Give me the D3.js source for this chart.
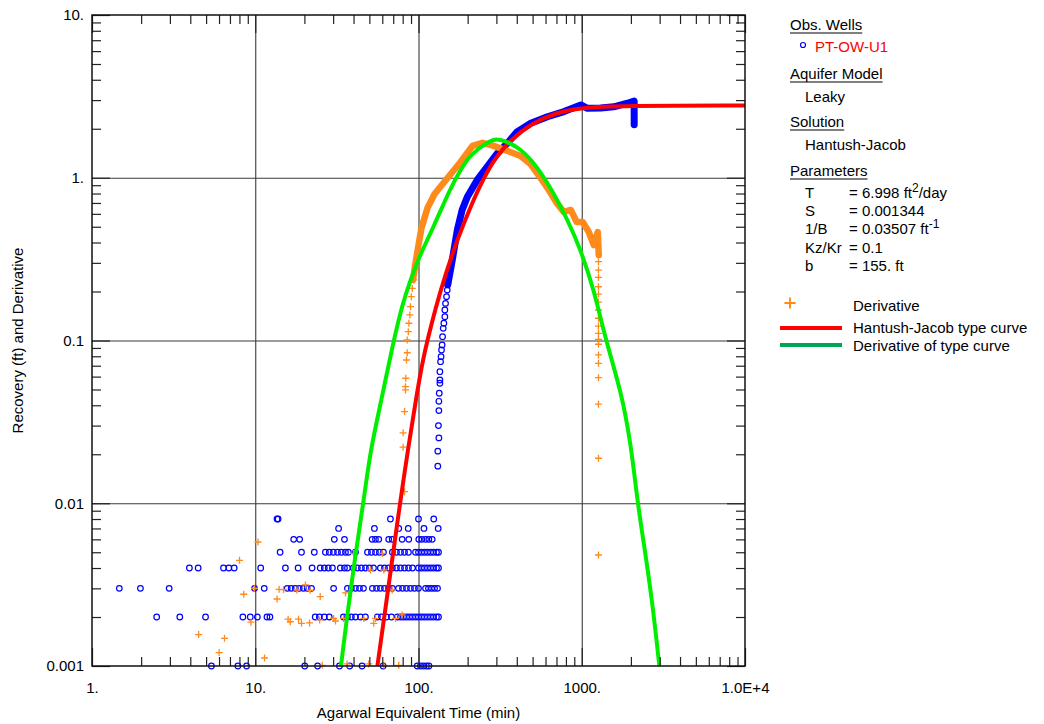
<!DOCTYPE html>
<html>
<head>
<meta charset="utf-8">
<script src="https://cdn.jsdelivr.net/npm/d3@7"></script>
<style>
  body { margin: 0; background: #fff; }
  svg text { font-family: "Liberation Sans", Arial, sans-serif; font-size: 15px; fill: #000; }
</style>
</head>
<body>
<script>
// values: time in min, recovery and derivative in ft
var xTicks = [1, 10, 100, 1000, 10000];
var xTickLabels = ['1.', '10.', '100.', '1000.', '1.0E+4'];
var yTicks = [0.001, 0.01, 0.1, 1, 10];
var yTickLabels = ['0.001', '0.01', '0.1', '1.', '10.'];

// early observations sit on 0.001 ft steps
var obsLevels = [0.001, 0.002, 0.003, 0.004, 0.005, 0.006, 0.007, 0.008];
var obsLevelTimes = [
  [5.39, 7.83, 8.85, 20.1, 24.1, 32.8, 37.9, 45.1, 60.7, 98.2, 102.8, 107.3, 111.9, 115.9],
  [2.49, 3.45, 4.96, 8.40, 9.32, 10.3, 11.8, 12.3, 23.3, 24.7, 26.5, 28.4, 34.7, 36.7, 38.8, 41.1, 44.1, 47.3,
   56.0, 59.3, 63.6, 68.3, 74.3, 77.6, 80.9, 84.4, 88.1, 91.9, 95.9, 100, 104.3, 108.8, 113.5, 118.5, 123.6, 128.9, 132.6],
  [1.47, 1.98, 2.97, 9.90, 11.35, 15.7, 16.6, 17.6, 18.6, 19.7, 20.8, 22.1, 30.2, 36.7, 38.8, 41.1, 43.5, 46.0,
   52.2, 55.3, 58.4, 61.9, 65.5, 69.2, 75.4, 79.8, 84.4, 89.3, 94.5, 100, 110.4, 115.1, 120.2, 125.4, 130.8],
  [3.95, 4.47, 6.39, 6.89, 7.43, 10.8, 15.3, 18.3, 22.3, 25.0, 26.5, 28.0, 29.7, 33.2, 35.2, 36.7, 39.9, 42.2, 44.7,
   47.3, 50.0, 53.0, 58.4, 61.9, 65.5, 69.2, 73.3, 77.6, 82.1, 86.8, 91.9, 100, 104.3, 108.8, 113.5, 118.5, 123.6, 128.9, 132.6],
  [14.2, 19.2, 23.0, 26.9, 28.4, 30.1, 31.9, 33.7, 35.7, 37.2, 41.1, 48.7, 51.5, 54.5, 57.6, 61.0, 69.2, 73.3,
   77.6, 82.1, 86.8, 95.9, 100, 104.3, 108.8, 113.5, 118.5, 123.6, 128.9, 132.6],
  [17.2, 18.7, 30.5, 35.2, 52.0, 54.5, 57.1, 65.7, 69.0, 79.4, 87.2, 100.4, 104.8, 110.4, 115.7, 121.3],
  [32.4, 53.7, 75.7, 86.5, 108, 132],
  [13.6, 13.8, 67.3, 100, 124]
];

var obsRiseTime = [131.3, 131.3, 133.3, 132.5, 133.3, 133.3, 134.0, 135.2, 135.2, 135.2, 136.5, 137.5,
  138.4, 139.5, 140.4, 141.7, 143.0, 145.0, 145.0, 146.4, 148.5, 150.0, 151.3];
var obsRiseRecovery = [0.0169, 0.0209, 0.0252, 0.0300, 0.0371, 0.0423, 0.0474, 0.0546, 0.0572, 0.0643, 0.0741, 0.0795,
  0.0874, 0.0938, 0.1055, 0.1188, 0.1276, 0.140, 0.154, 0.169, 0.186, 0.204, 0.224];

// late observations are so dense they read as one thick band
var obsBandTime = [151, 161, 173, 185, 199, 229, 264, 304, 350, 403, 487, 616, 779, 986, 1084, 1308, 1571, 1906, 2094, 2095];
var obsBandRecovery = [0.22, 0.312, 0.478, 0.634, 0.762, 0.969, 1.17, 1.41, 1.63, 1.92, 2.16, 2.37, 2.55, 2.80, 2.67, 2.68, 2.73, 2.87, 2.96, 2.12];

var derivTime = [4.50, 6.01, 6.48, 8.01, 8.50, 9.41, 9.89, 10.4, 11.4, 13.6, 14.0, 14.9, 15.9, 16.4, 18.0, 18.4, 19.2, 20.3,
  21.5, 21.7, 24.8, 25.0, 25.7, 30.2, 31.0, 34.8, 35.7, 36.5, 40.1, 46.2, 49.6, 50.8, 53.2, 54.5, 59.9, 61.3, 61.3,
  69.0, 72.3, 75.7, 79.4,
  82.1, 80.5, 80.5, 82.1, 83.2, 83.2, 83.6, 84.4, 85.3, 85.3, 86.6, 87.3, 88.6, 89.3, 90.3, 91.6, 93.6, 95.9,
  1266, 1266, 1266, 1266, 1266, 1266, 1266, 1266, 1266, 1266, 1266, 1266, 1266, 1266, 1266, 1266, 1266, 1266];
var derivValue = [0.00156, 0.00121, 0.00148, 0.00446, 0.00276, 0.00186, 0.00300, 0.00578, 0.00112, 0.00258, 0.00296,
  0.00295, 0.00194, 0.00187, 0.00293, 0.00194, 0.00183, 0.00315, 0.00184, 0.00292, 0.00192, 0.00267, 0.00101, 0.00196,
  0.00189, 0.00196, 0.00281, 0.00103, 0.00492, 0.00196, 0.00103, 0.00389, 0.00183, 0.00196, 0.00492, 0.00389, 0.00101,
  0.00293, 0.00196, 0.00101, 0.00206,
  0.01178, 0.0221, 0.0271, 0.0366, 0.0497, 0.0520, 0.0586, 0.0759, 0.0841, 0.1007, 0.1133, 0.1276, 0.1436, 0.1614,
  0.186, 0.209, 0.2355, 0.271,
  0.305, 0.271, 0.244, 0.214, 0.193, 0.172, 0.154, 0.137, 0.1227, 0.1107, 0.1016, 0.0948, 0.0815, 0.0724, 0.0591,
  0.0406, 0.0189, 0.00481];

var derivBandTime = [92.5, 95.9, 100, 104.3, 113.5, 125.4, 150.6, 181, 214, 247, 289, 352, 422, 487, 560, 628, 703, 776,
  857, 931, 1014, 1104, 1185, 1254, 1271];
var derivBandValue = [0.235, 0.299, 0.386, 0.491, 0.652, 0.794, 0.996, 1.25, 1.57, 1.64, 1.57, 1.46, 1.36, 1.21, 0.996,
  0.841, 0.700, 0.616, 0.634, 0.535, 0.535, 0.464, 0.386, 0.464, 0.335];

var typeTime = [56.0, 62.8, 70.3, 77.6, 86.8, 97.2, 105.8, 113.5, 127.2, 146.4, 173.5, 208.5, 247, 296.8, 366.8,
  486.5, 692.6, 986, 1735, 10000];
var typeRecovery = [0.001, 0.00227, 0.00516, 0.01047, 0.02247, 0.0456, 0.0738, 0.1007, 0.1584, 0.2563, 0.4204,
  0.6659, 0.9687, 1.337, 1.706, 2.139, 2.510, 2.695, 2.772, 2.78];

var typeDerivTime = [33.5, 36.5, 40.1, 46.2, 50.8, 58.4, 70.5, 79.8, 89.3, 100, 123.6, 157, 181, 208, 277, 300, 332,
  422, 537, 673, 820, 986, 1190, 1403, 1734, 2000, 2198, 2471, 2727, 2988];
var typeDerivValue = [0.001, 0.00201, 0.00407, 0.01047, 0.0212, 0.0402, 0.1007, 0.1675, 0.2355, 0.32, 0.498, 0.865,
  1.116, 1.40, 1.70, 1.73, 1.70, 1.52, 1.16, 0.806, 0.550, 0.360, 0.204, 0.100, 0.0497, 0.0234, 0.0100, 0.0047,
  0.00231, 0.001];

var paramNames = ['T', 'S', '1/B', 'Kz/Kr', 'b'];
var paramValues = ['= 6.998 ft', '= 0.001344', '= 0.03507 ft', '= 0.1', '= 155. ft'];
var paramSups = ['2', '', '-1', '', ''];
var paramTails = ['/day', '', '', '', ''];

var Plot = {
  left: 92, right: 745, top: 15, bottom: 666,
  svg: {}, x: {}, y: {},
  blue: '#0000ff', orange: '#ff8a1c', red: '#ff0000', green: '#00ee00'
};

Plot.pairs = function(xs, ys) {
  return xs.map(function(d, i) { return [d, ys[i]]; });
};

Plot.minors = function(lo, hi) {
  var out = [];
  for (var dec = lo; dec < hi; dec *= 10) {
    for (var k = 2; k <= 9; k++) out.push(dec * k);
  }
  return out;
};

Plot.setup = function() {
  this.svg = d3.select('body').append('svg')
    .attr('width', 1044).attr('height', 724);
  this.x = d3.scaleLog().domain([1, 10000]).range([this.left, this.right]);
  this.y = d3.scaleLog().domain([0.001, 10]).range([this.bottom, this.top]);
  this.svg.append('clipPath').attr('id', 'plotclip')
    .append('rect')
    .attr('x', this.left).attr('y', this.top)
    .attr('width', this.right - this.left).attr('height', this.bottom - this.top);
};

Plot.drawGrid = function() {
  var h = this.bottom - this.top, w = this.right - this.left;
  var gx = this.svg.append('g').attr('transform', 'translate(0,' + this.bottom + ')')
    .call(d3.axisBottom(this.x).tickValues(xTicks.slice(1, -1)).tickSize(-h).tickFormat(''));
  var gy = this.svg.append('g').attr('transform', 'translate(' + this.left + ',0)')
    .call(d3.axisLeft(this.y).tickValues(yTicks.slice(1, -1)).tickSize(-w).tickFormat(''));
  [gx, gy].forEach(function(g) {
    g.select('.domain').remove();
    g.selectAll('line').attr('stroke', '#3a3a3a').attr('stroke-width', 1.1);
  });
};

Plot.drawObs = function() {
  var x = this.x, y = this.y;
  var pts = [];
  obsLevels.forEach(function(lv, i) {
    obsLevelTimes[i].forEach(function(t) { pts.push([t, lv]); });
  });
  pts = pts.concat(this.pairs(obsRiseTime, obsRiseRecovery));

  this.svg.append('path')
    .datum(this.pairs(obsBandTime, obsBandRecovery))
    .attr('clip-path', 'url(#plotclip)')
    .attr('fill', 'none').attr('stroke', this.blue)
    .attr('stroke-width', 7).attr('stroke-linejoin', 'round').attr('stroke-linecap', 'round')
    .attr('d', d3.line().x(function(d) { return x(d[0]); }).y(function(d) { return y(d[1]); }));

  this.svg.append('g').selectAll('circle')
    .data(pts).enter().append('circle')
    .attr('cx', function(d) { return x(d[0]); })
    .attr('cy', function(d) { return y(d[1]); })
    .attr('r', 2.8)
    .attr('fill', 'none').attr('stroke', this.blue).attr('stroke-width', 1.2);
};

Plot.plus = 'M-3.5,0H3.5M0,-3.5V3.5';

Plot.drawDerivative = function() {
  var x = this.x, y = this.y;
  this.svg.append('path')
    .datum(this.pairs(derivBandTime, derivBandValue))
    .attr('clip-path', 'url(#plotclip)')
    .attr('fill', 'none').attr('stroke', this.orange)
    .attr('stroke-width', 6.5).attr('stroke-linejoin', 'round').attr('stroke-linecap', 'round')
    .attr('d', d3.line().x(function(d) { return x(d[0]); }).y(function(d) { return y(d[1]); }));

  this.svg.append('g').selectAll('path')
    .data(this.pairs(derivTime, derivValue)).enter().append('path')
    .attr('d', this.plus)
    .attr('transform', function(d) { return 'translate(' + x(d[0]) + ',' + y(d[1]) + ')'; })
    .attr('stroke', this.orange).attr('stroke-width', 1.3);
};

Plot.drawCurves = function() {
  var x = this.x, y = this.y;
  var line = d3.line().curve(d3.curveBasis)
    .x(function(d) { return x(d[0]); }).y(function(d) { return y(d[1]); });
  var curves = [
    { pts: this.pairs(typeTime, typeRecovery), color: this.red },
    { pts: this.pairs(typeDerivTime, typeDerivValue), color: this.green }
  ];
  var g = this.svg.append('g').attr('clip-path', 'url(#plotclip)');
  curves.forEach(function(c) {
    g.append('path').datum(c.pts)
      .attr('fill', 'none').attr('stroke', c.color).attr('stroke-width', 4)
      .attr('d', line);
  });
};

Plot.drawFrame = function() {
  var svg = this.svg, x = this.x, y = this.y;
  var mx = this.minors(1, 10000), my = this.minors(0.001, 10);
  var axes = [
    [d3.axisBottom(x), 'translate(0,' + this.bottom + ')', mx, xTicks],
    [d3.axisTop(x), 'translate(0,' + this.top + ')', mx, xTicks],
    [d3.axisLeft(y), 'translate(' + this.left + ',0)', my, yTicks],
    [d3.axisRight(y), 'translate(' + this.right + ',0)', my, yTicks]
  ];
  axes.forEach(function(a) {
    [[a[2], -9], [a[3], -18]].forEach(function(set) {
      var g = svg.append('g').attr('transform', a[1])
        .call(a[0].tickValues(set[0]).tickSize(set[1]).tickFormat(''));
      g.select('.domain').remove();
      g.selectAll('line').attr('stroke', '#222').attr('stroke-width', 1.2);
    });
  });

  svg.append('rect')
    .attr('x', this.left).attr('y', this.top)
    .attr('width', this.right - this.left).attr('height', this.bottom - this.top)
    .attr('fill', 'none').attr('stroke', '#111').attr('stroke-width', 1.5);

  var bx = svg.append('g').attr('transform', 'translate(0,' + this.bottom + ')')
    .call(d3.axisBottom(x).tickValues(xTicks).tickSize(0).tickPadding(16)
      .tickFormat(function(d, i) { return xTickLabels[i]; }));
  var ly = svg.append('g').attr('transform', 'translate(' + this.left + ',0)')
    .call(d3.axisLeft(y).tickValues(yTicks).tickSize(0).tickPadding(8)
      .tickFormat(function(d, i) { return yTickLabels[i]; }));
  [bx, ly].forEach(function(g) {
    g.select('.domain').remove();
    g.attr('font-size', null).attr('font-family', null);
    g.selectAll('text').attr('fill', '#000');
  });

  svg.append('text')
    .attr('x', (this.left + this.right) / 2).attr('y', 718)
    .attr('text-anchor', 'middle')
    .text('Agarwal Equivalent Time (min)');
  svg.append('text')
    .attr('transform', 'translate(23,' + (this.top + this.bottom) / 2 + ') rotate(-90)')
    .attr('text-anchor', 'middle')
    .text('Recovery (ft) and Derivative');
};

Plot.heading = function(label, yy) {
  var t = this.svg.append('text').attr('x', 790).attr('y', yy).text(label);
  var len = t.node().getComputedTextLength();
  this.svg.append('line')
    .attr('x1', 790).attr('x2', 790 + len)
    .attr('y1', yy + 3).attr('y2', yy + 3)
    .attr('stroke', '#000').attr('stroke-width', 1);
};

Plot.drawLegend = function() {
  var svg = this.svg;
  this.heading('Obs. Wells', 30);
  svg.append('circle').attr('cx', 803).attr('cy', 45).attr('r', 2.5)
    .attr('fill', 'none').attr('stroke', this.blue).attr('stroke-width', 1.2);
  svg.append('text').attr('x', 815).attr('y', 52).style('fill', this.red).text('PT-OW-U1');

  this.heading('Aquifer Model', 79);
  svg.append('text').attr('x', 805).attr('y', 102).text('Leaky');
  this.heading('Solution', 127);
  svg.append('text').attr('x', 805).attr('y', 150).text('Hantush-Jacob');
  this.heading('Parameters', 176);

  paramNames.forEach(function(name, i) {
    var yy = 198 + i * 18.2;
    svg.append('text').attr('x', 805).attr('y', yy).text(name);
    var t = svg.append('text').attr('x', 849).attr('y', yy);
    t.append('tspan').text(paramValues[i]);
    if (paramSups[i]) {
      t.append('tspan').attr('dy', -6).style('font-size', '12px').text(paramSups[i]);
      t.append('tspan').attr('dy', 6).text(paramTails[i]);
    }
  });

  svg.append('path').attr('d', this.plus).attr('transform', 'translate(790,303) scale(1.6)')
    .attr('stroke', this.orange).attr('stroke-width', 1.2);
  svg.append('text').attr('x', 853).attr('y', 311).text('Derivative');

  svg.append('line').attr('x1', 780).attr('x2', 842).attr('y1', 328).attr('y2', 328)
    .attr('stroke', this.red).attr('stroke-width', 4);
  svg.append('text').attr('x', 853).attr('y', 333).text('Hantush-Jacob type curve');

  svg.append('line').attr('x1', 780).attr('x2', 842).attr('y1', 345).attr('y2', 345)
    .attr('stroke', '#00a651').attr('stroke-width', 4);
  svg.append('text').attr('x', 853).attr('y', 351).text('Derivative of type curve');
};

Plot.init = function() {
  this.setup();
  this.drawGrid();
  this.drawObs();
  this.drawDerivative();
  this.drawCurves();
  this.drawFrame();
  this.drawLegend();
};

Plot.init();
</script>
</body>
</html>
